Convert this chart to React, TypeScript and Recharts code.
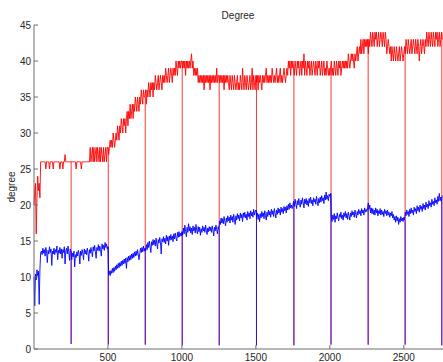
import { LineChart, Line, XAxis, YAxis } from 'recharts';

// samples every 5 units along x
const gridStep = 5;

// red series (degree), x = 0..2760
const redDegree = [
  20, 22, 23, 16, 21, 24, 22, 23, 21, 26,
  26, 26, 26, 26, 26, 26, 25, 26, 26, 26,
  26, 25, 26, 26, 26, 26, 25, 26, 26, 26,
  26, 26, 26, 26, 26, 25, 26, 26, 26, 25,
  26, 26, 27, 26, 26, 26, 26, 26, 26, 26,
  // 250
  26, 26, 26, 26, 26, 26, 26, 25, 26, 26,
  26, 26, 26, 26, 25, 26, 26, 26, 26, 26,
  26, 26, 26, 26, 26, 26, 28, 26, 27, 28,
  26, 28, 26, 27, 28, 26, 28, 27, 26, 28,
  26, 28, 27, 26, 28, 26, 27, 28, 26, 28,
  // 500
  28, 27, 28, 29, 28, 29, 28, 30, 29, 28,
  29, 30, 29, 31, 30, 29, 31, 30, 32, 31,
  30, 32, 31, 32, 30, 32, 33, 31, 33, 32,
  34, 32, 33, 34, 32, 34, 33, 35, 34, 33,
  35, 34, 33, 35, 34, 36, 35, 34, 36, 35,
  // 750
  35, 36, 34, 36, 35, 37, 36, 35, 37, 36,
  37, 35, 37, 36, 38, 37, 36, 37, 38, 36,
  37, 38, 37, 36, 38, 37, 38, 37, 39, 38,
  37, 38, 39, 37, 38, 39, 38, 37, 39, 38,
  39, 38, 40, 39, 38, 40, 39, 40, 39, 40,
  // 1000
  40, 39, 40, 39, 40, 38, 40, 39, 40, 39,
  40, 39, 40, 41, 39, 40, 38, 39, 38, 39,
  38, 39, 37, 38, 37, 38, 37, 38, 37, 38,
  36, 38, 37, 38, 37, 38, 37, 38, 36, 38,
  37, 38, 37, 38, 37, 38, 37, 39, 37, 38,
  // 1250
  38, 37, 38, 37, 38, 37, 38, 36, 38, 37,
  38, 37, 38, 37, 36, 38, 37, 36, 38, 37,
  36, 38, 37, 36, 37, 38, 36, 37, 36, 38,
  37, 36, 39, 37, 36, 38, 37, 36, 38, 37,
  36, 37, 38, 36, 37, 39, 36, 38, 37, 36,
  // 1500
  38, 37, 38, 36, 38, 37, 38, 37, 36, 38,
  37, 38, 37, 38, 39, 37, 38, 37, 38, 37,
  38, 37, 39, 38, 37, 38, 37, 38, 39, 37,
  38, 37, 38, 39, 37, 38, 37, 38, 39, 38,
  37, 38, 39, 38, 40, 39, 40, 38, 40, 39,
  // 1750
  40, 39, 38, 40, 39, 38, 40, 39, 40, 38,
  39, 40, 38, 40, 39, 41, 38, 40, 39, 38,
  40, 39, 40, 38, 39, 40, 38, 39, 40, 39,
  38, 40, 39, 38, 40, 39, 40, 38, 39, 40,
  38, 39, 40, 38, 39, 38, 40, 39, 38, 39,
  // 2000
  38, 39, 40, 38, 39, 38, 40, 39, 38, 40,
  39, 38, 40, 39, 40, 38, 39, 40, 39, 40,
  39, 40, 39, 40, 39, 41, 40, 39, 40, 41,
  40, 41, 40, 39, 41, 40, 41, 42, 40, 41,
  42, 41, 43, 41, 42, 43, 41, 43, 42, 43,
  // 2250
  42, 43, 41, 43, 42, 44, 43, 42, 44, 43,
  42, 44, 43, 44, 42, 43, 44, 42, 43, 44,
  43, 42, 44, 43, 42, 44, 43, 41, 42, 43,
  42, 41, 42, 40, 42, 41, 40, 42, 41, 40,
  42, 41, 40, 41, 42, 40, 41, 42, 41, 40,
  // 2500
  41, 42, 41, 43, 42, 41, 43, 42, 41, 42,
  43, 41, 42, 43, 42, 41, 43, 42, 41, 43,
  42, 40, 42, 43, 41, 42, 43, 42, 41, 43,
  42, 44, 43, 42, 44, 43, 42, 44, 43, 42,
  44, 43, 42, 44, 43, 44, 42, 43, 44, 42,
  43, 44, 43,
];

// blue series (degree), x = 0..2760
const blueDegree = [
  10, 6, 10.4, 9.6, 11, 10.2, 10.8, 6.2, 11, 13.4,
  13.6, 13.1, 14, 13.3, 13.8, 12.9, 14.1, 13.5, 12, 13.7,
  13.2, 14.2, 13.4, 13.9, 11.6, 13.6, 13.2, 14, 13.1, 13.8,
  13.4, 14.3, 12.4, 13.7, 13.3, 14.1, 13.2, 13.9, 12.6, 13.8,
  13.4, 14.2, 11.8, 13.6, 14, 13.2, 14.3, 13.5, 12.3, 13.9,
  // 250
  13.6, 12.4, 13.3, 12.8, 13.6, 11.4, 13.1, 12.7, 13.5, 12.9,
  13.7, 13.2, 11.8, 13.6, 13, 13.8, 13.3, 12.4, 13.9, 13.2,
  13.7, 13.1, 14, 13.4, 12.2, 13.8, 13.3, 14.1, 13.5, 12.8,
  14.2, 13.6, 14.4, 13.5, 12.6, 14.1, 13.7, 14.5, 13.6, 14.3,
  13.8, 12.9, 14.6, 13.9, 14.4, 13.7, 14.8, 14.1, 14.6, 13.9,
  // 500
  14.2, 10.3, 10.8, 10.2, 10.9, 10.5, 11.2, 10.6, 11.3, 10.8,
  11.5, 11, 11.7, 11.2, 11.9, 11.3, 12, 11.5, 12.2, 11.6,
  12.3, 11.8, 12.5, 11.9, 12.6, 11.2, 12.7, 12.1, 12.9, 12.3,
  13, 12.4, 13.2, 12.6, 13.3, 12.7, 13.5, 12.9, 13.6, 13,
  13.8, 13.1, 12.4, 13.3, 14, 13.4, 14.1, 13.5, 14.3, 13.6,
  // 750
  14, 13.6, 14.5, 13.8, 14.8, 14.1, 15, 14.2, 13.4, 14.9,
  14.4, 15.2, 14.5, 15.1, 14.3, 15.4, 14.6, 13.9, 15.2, 14.7,
  15.5, 14.8, 13.2, 15.3, 14.9, 15.6, 14.8, 15.4, 14.6, 15.8,
  15, 15.6, 14.4, 15.7, 15.1, 15.9, 15.2, 15.7, 14.9, 16,
  15.3, 16.1, 15.4, 15, 16.2, 15.5, 16.3, 15.6, 16.1, 15.7,
  // 1000
  16.3, 15.8, 16.8, 16, 17.2, 16.3, 15.6, 16.9, 16.2, 17.4,
  16.4, 17, 16.1, 16.8, 15.9, 17.1, 16.4, 16.9, 16.1, 17.3,
  16.5, 16, 17, 16.3, 16.9, 15.8, 16.7, 16.2, 17.1, 16.4,
  16.9, 16.2, 17.2, 16.5, 15.9, 16.8, 16.3, 17, 16.4, 16.9,
  16.2, 17.1, 16.5, 15.7, 16.9, 16.4, 17.2, 16.6, 16, 17,
  // 1250
  16.6, 17.8, 17.3, 18.2, 17.5, 18.1, 17.4, 18.4, 17.7, 17.1,
  18.2, 17.6, 18.5, 17.8, 18.3, 17.5, 18.6, 17.9, 18.4, 17.6,
  18.7, 18, 17.3, 18.5, 17.9, 18.8, 18.1, 18.6, 17.8, 18.9,
  18.2, 18.7, 17.7, 18.9, 18.3, 19, 18.2, 18.7, 17.9, 19.1,
  18.4, 18.9, 18.1, 19.2, 18.5, 19, 18.3, 19.4, 18.6, 19.1,
  // 1500
  19.3, 18.3, 18.9, 18, 18.7, 17.7, 18.8, 18.2, 19.1, 18.4,
  18.9, 18.1, 19.2, 18.5, 17.9, 19, 18.4, 19.3, 18.6, 19.1,
  18.3, 19.4, 18.7, 19.2, 18.4, 19.5, 18.8, 18.2, 19.3, 18.7,
  19.6, 18.9, 19.4, 18.6, 19.7, 19, 19.5, 18.8, 19.8, 19.2,
  19.7, 18.9, 19.9, 19.3, 20.1, 19.4, 20.3, 19.6, 20, 19.5,
  // 1750
  19.9, 20.5, 19.8, 20.8, 20.1, 19.5, 20.6, 20, 20.9, 20.2,
  19.7, 20.7, 20.1, 21, 20.3, 19.6, 20.8, 20.2, 20.9, 20,
  20.6, 19.8, 20.9, 20.3, 21.1, 20.2, 20.7, 19.9, 21, 20.4,
  20.8, 20.1, 21.2, 20.5, 19.9, 20.9, 20.3, 21.1, 20.4, 21.3,
  20.6, 21, 20.2, 21.4, 20.7, 21.8, 20.8, 21.3, 20.6, 21.5,
  // 2000
  21.2, 21.6, 18.3, 17.7, 18.6, 18, 18.8, 17.6, 18.5, 18.1,
  18.9, 18.2, 17.8, 18.7, 18.3, 19, 18.1, 18.6, 17.9, 18.9,
  18.4, 19.1, 18.2, 18.8, 18, 19, 18.5, 17.9, 18.9, 18.4,
  19.2, 18.6, 19, 18.3, 19.3, 18.7, 18.2, 19.1, 18.6, 19.4,
  18.8, 19.2, 18.5, 19.5, 18.9, 19.3, 18.6, 19.6, 19, 19.4,
  // 2250
  19.1, 19.6, 20.3, 19.4, 20, 18.9, 19.6, 18.8, 19.5, 18.7,
  19.3, 18.6, 19.6, 18.9, 19.4, 18.5, 19.2, 18.8, 19.5, 18.6,
  19.3, 18.7, 19.1, 18.4, 19.4, 18.8, 19.2, 18.5, 19.3, 18.6,
  19, 18.3, 18.9, 18.5, 19.1, 18.2, 18.7, 17.9, 18.4, 17.6,
  18.5, 17.8, 18.3, 17.3, 18.1, 17.6, 18.4, 17.8, 18.2, 17.7,
  // 2500
  18.3, 17.9, 19, 18.5, 19.3, 18.7, 19.1, 18.4, 19.4, 18.8,
  19.6, 18.9, 19.3, 18.6, 19.7, 19.1, 19.5, 18.8, 19.9, 19.2,
  19.7, 19, 20, 19.4, 19.8, 19.1, 20.2, 19.5, 20, 19.3,
  20.4, 19.7, 20.1, 19.5, 20.6, 19.9, 20.3, 19.7, 20.8, 20.1,
  20.5, 19.9, 21, 20.3, 20.7, 20.1, 21.2, 20.5, 21.6, 20.6,
  21.1, 20.4, 21.3,
];

// periodic drop-outs where both series fall near zero
const spikeX = [251, 502, 752, 1002, 1252, 1504, 1757, 2008, 2259, 2509, 2757];
const spikeLow = [0.7, 0.6, 0.6, 0.5, 0.5, 0.5, 0.5, 0.6, 0.6, 0.6, 0.5];

const xTicks = [500, 1000, 1500, 2000, 2500];
const yTicks = [0, 5, 10, 15, 20, 25, 30, 35, 40, 45];

type Row = { x: number; red?: number; blue?: number; redDrop?: number | null; blueDrop?: number | null };

const rows: Row[] = redDegree.map((r, i) => ({ x: i * gridStep, red: r, blue: blueDegree[i] }));
// each drop-out: straight down from the level just before it, then a break
spikeX.forEach((sx, i) => {
  const k = Math.floor(sx / gridStep);
  rows.push({ x: sx, redDrop: redDegree[k], blueDrop: blueDegree[k] });
  rows.push({ x: sx, redDrop: spikeLow[i], blueDrop: spikeLow[i] });
  rows.push({ x: sx + 0.01, redDrop: null, blueDrop: null });
});
const data = rows.map((r, i) => ({ ...r, order: i })).sort((a, b) => a.x - b.x || a.order - b.order);

const axisColor = '#6e6e6e';
const textColor = '#262626';
const font = '"Liberation Sans", Arial, sans-serif';

const BottomTick = ({ x, y, payload }: any) => (
  <g>
    <line x1={x} y1={y} x2={x} y2={y - 4} stroke={axisColor} />
    <text x={x} y={y + 11.5} textAnchor="middle" fontSize={10} fill={textColor} fontFamily={font}>
      {payload.value}
    </text>
  </g>
);

const TopTick = ({ x, y }: any) => (
  <line x1={x} y1={y} x2={x} y2={y + 4} stroke={axisColor} />
);

const LeftTick = ({ x, y, payload }: any) => (
  <g>
    <line x1={x} y1={y} x2={x + 4} y2={y} stroke={axisColor} />
    <text x={x - 3} y={y + 3.5} textAnchor="end" fontSize={10} fill={textColor} fontFamily={font}>
      {payload.value}
    </text>
  </g>
);

export default function App() {
  return (
    <div style={{ position: 'absolute', left: 0, top: 0, width: 443, height: 362, background: '#fff', overflow: 'hidden' }}>
      <LineChart width={443} height={362} data={data} margin={{ top: 25, right: 0, bottom: 0, left: 0 }}>
        <XAxis
          xAxisId="bottom"
          dataKey="x"
          type="number"
          domain={[0, 2765]}
          ticks={xTicks}
          height={13}
          tickSize={0}
          tickMargin={0}
          tickLine={false}
          axisLine={{ stroke: axisColor }}
          tick={<BottomTick />}
        />
        <XAxis
          xAxisId="top"
          orientation="top"
          dataKey="x"
          type="number"
          domain={[0, 2765]}
          ticks={xTicks}
          height={0}
          tickSize={0}
          tickMargin={0}
          tickLine={false}
          axisLine={{ stroke: axisColor }}
          tick={<TopTick />}
        />
        <YAxis
          type="number"
          domain={[0, 45]}
          ticks={yTicks}
          width={34}
          tickSize={0}
          tickMargin={0}
          tickLine={false}
          axisLine={{ stroke: axisColor }}
          tick={<LeftTick />}
          interval={0}
        />
        <Line xAxisId="bottom" type="linear" dataKey="red" stroke="#ff0000" strokeWidth={0.9} dot={false} connectNulls isAnimationActive={false} />
        <Line xAxisId="bottom" type="linear" dataKey="redDrop" stroke="#ff0000" strokeWidth={0.8} dot={false} isAnimationActive={false} />
        <Line xAxisId="bottom" type="linear" dataKey="blue" stroke="#0000ff" strokeWidth={0.9} dot={false} connectNulls isAnimationActive={false} />
        <Line xAxisId="bottom" type="linear" dataKey="blueDrop" stroke="#0000ff" strokeWidth={0.8} dot={false} isAnimationActive={false} />
      </LineChart>
      <svg width={443} height={362} style={{ position: 'absolute', left: 0, top: 0, pointerEvents: 'none' }}>
        <text x={238} y={18.5} textAnchor="middle" fontSize={10} fill={textColor} fontFamily={font}>
          Degree
        </text>
        <text x={15} y={187} transform="rotate(-90 15 187)" textAnchor="middle" fontSize={10} fill={textColor} fontFamily={font}>
          degree
        </text>
      </svg>
    </div>
  );
}
